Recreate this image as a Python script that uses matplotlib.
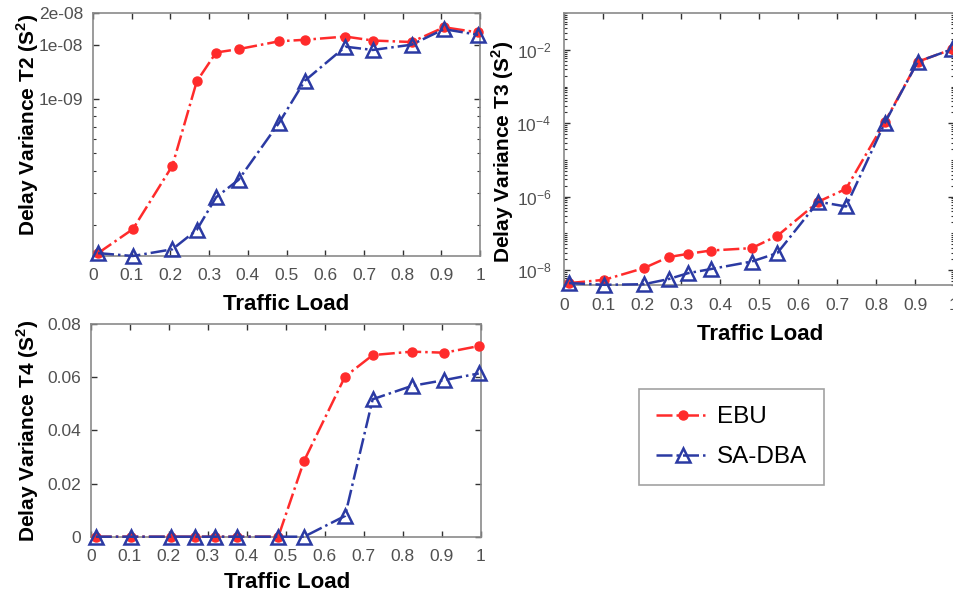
import numpy as np
import matplotlib.pyplot as plt
from matplotlib.ticker import FixedLocator, FixedFormatter, LogLocator, NullFormatter, LogFormatterSciNotation

plt.rcParams['font.family'] = ['Liberation Sans', 'DejaVu Sans']
plt.rcParams['mathtext.fontset'] = 'custom'
plt.rcParams['mathtext.rm'] = 'Liberation Sans'
plt.rcParams['mathtext.bf'] = 'Liberation Sans:bold'

# traffic load (x) shared by all panels
load = [0.013, 0.103, 0.205, 0.268, 0.318, 0.376, 0.481, 0.547, 0.652, 0.723, 0.823, 0.907, 0.995]

# delay variance T2 (log axis)
ebu_t2 = [1.39e-10, 1.89e-10, 4.25e-10, 1.25e-9, 1.81e-9, 1.89e-9, 2.09e-9, 2.13e-9, 2.22e-9, 2.11e-9, 2.07e-9, 2.50e-9, 2.34e-9]
sa_t2 = [1.39e-10, 1.34e-10, 1.46e-10, 1.87e-10, 2.84e-10, 3.55e-10, 7.38e-10, 1.26e-9, 1.95e-9, 1.87e-9, 2.0e-9, 2.44e-9, 2.27e-9]
t2_ticks = [1e-9, 2e-9, 3e-9]
t2_labels = ['1e-09', '1e-08', '2e-08']

# delay variance T3 (log axis)
ebu_t3 = [4.4e-9, 5.4e-9, 1.13e-8, 2.25e-8, 2.76e-8, 3.4e-8, 3.95e-8, 8.55e-8, 7.3e-7, 1.63e-6, 1.11e-4, 4.8e-3, 1.05e-2]
sa_t3 = [4.4e-9, 3.95e-9, 4.1e-9, 5.65e-9, 8.2e-9, 1.06e-8, 1.7e-8, 2.9e-8, 7.3e-7, 5.4e-7, 1.05e-4, 4.8e-3, 1.05e-2]

# delay variance T4 (linear axis)
ebu_t4 = [0, 0, 0, 0, 0, 0, 0, 0.0285, 0.0602, 0.0683, 0.0696, 0.0692, 0.0717]
sa_t4 = [0, 0, 0, 0, 0, 0, 0, 0, 0.0078, 0.0517, 0.0567, 0.0589, 0.0614]

red = '#ff2b2b'
blue = '#2b3aa3'
spine_col = '#8a8a8a'
tick_col = '#505050'

fig = plt.figure(figsize=(9.54, 5.97), dpi=100)

ax2 = fig.add_axes([0.0975, 0.5712, 0.4057, 0.407])
ax3 = fig.add_axes([0.5912, 0.5226, 0.4088, 0.455])
ax4 = fig.add_axes([0.0951, 0.101, 0.4088, 0.3563])


def style(ax, ylab, ylab_pos, xlab_pos, ypad=6):
    for s in ax.spines.values():
        s.set_color(spine_col)
        s.set_linewidth(1.2)
    ax.tick_params(which='both', direction='in', top=True, right=True,
                   color='#333333', labelcolor=tick_col, labelsize=12.5)
    ax.tick_params(which='major', length=4, width=1)
    ax.tick_params(which='minor', length=2.5, width=0.8)
    ax.tick_params(axis='x', pad=9)
    ax.tick_params(axis='y', pad=ypad)
    ax.set_xlim(0, 1)
    ax.set_xticks(np.arange(0, 1.01, 0.1))
    ax.set_xticklabels(['0', '0.1', '0.2', '0.3', '0.4', '0.5', '0.6', '0.7', '0.8', '0.9', '1'])
    ax.set_xlabel('Traffic Load', fontsize=16, fontweight='bold', va='center')
    ax.xaxis.set_label_coords(*xlab_pos)
    ax.set_ylabel(ylab, fontsize=15, fontweight='bold', va='center', ha='center')
    ax.yaxis.set_label_coords(*ylab_pos)


def draw(ax, y1, y2, ms_tri):
    ax.plot(load, y1, linestyle='-.', color=red, lw=1.8, marker='o', ms=6.5,
            mfc=red, mec=red, label='EBU', clip_on=False, zorder=3)
    ax.plot(load, y2, linestyle='-.', color=blue, lw=1.8, marker='^', ms=ms_tri,
            mfc='none', mec=blue, mew=1.8, label='SA-DBA', clip_on=False, zorder=4)


# T2
draw(ax2, ebu_t2, sa_t2, 9.5)
ax2.set_yscale('log')
ax2.set_ylim(1.34e-10, 3.0e-9)
ax2.yaxis.set_major_locator(FixedLocator(t2_ticks))
ax2.yaxis.set_major_formatter(FixedFormatter(t2_labels))
ax2.yaxis.set_minor_locator(LogLocator(base=10, subs=np.arange(2, 10)))
ax2.yaxis.set_minor_formatter(NullFormatter())
style(ax2, r'Delay Variance T2 (S$^\mathbf{2}$)', (-0.168, 0.54), (0.50, -0.198), ypad=7)

# T3
draw(ax3, ebu_t3, sa_t3, 10.5)
ax3.set_yscale('log')
ax3.set_ylim(3.9e-9, 1e-1)
ax3.yaxis.set_major_locator(FixedLocator([1e-8, 1e-6, 1e-4, 1e-2]))
ax3.yaxis.set_major_formatter(LogFormatterSciNotation())
ax3.yaxis.set_minor_locator(LogLocator(base=10, subs=np.arange(1, 10), numticks=30))
ax3.yaxis.set_minor_formatter(NullFormatter())
style(ax3, r'Delay Variance T3 (S$^\mathbf{2}$)', (-0.158, 0.49), (0.503, -0.184), ypad=9)

# T4
draw(ax4, ebu_t4, sa_t4, 9.5)
ax4.set_ylim(0, 0.08)
ax4.set_yticks([0, 0.02, 0.04, 0.06, 0.08])
ax4.set_yticklabels(['0', '0.02', '0.04', '0.06', '0.08'])
style(ax4, r'Delay Variance T4 (S$^\mathbf{2}$)', (-0.161, 0.497), (0.503, -0.213), ypad=7)

handles, labels = ax2.get_legend_handles_labels()
leg = fig.legend(handles, labels, loc='upper left', bbox_to_anchor=(0.6698, 0.3484),
                 fontsize=17.5, frameon=True, fancybox=False, handlelength=2.2,
                 handletextpad=0.3, labelspacing=0.75, borderpad=0.7, borderaxespad=0)
leg.get_frame().set_edgecolor(spine_col)
leg.get_frame().set_linewidth(1.2)

fig.savefig('out.png', dpi=100)
